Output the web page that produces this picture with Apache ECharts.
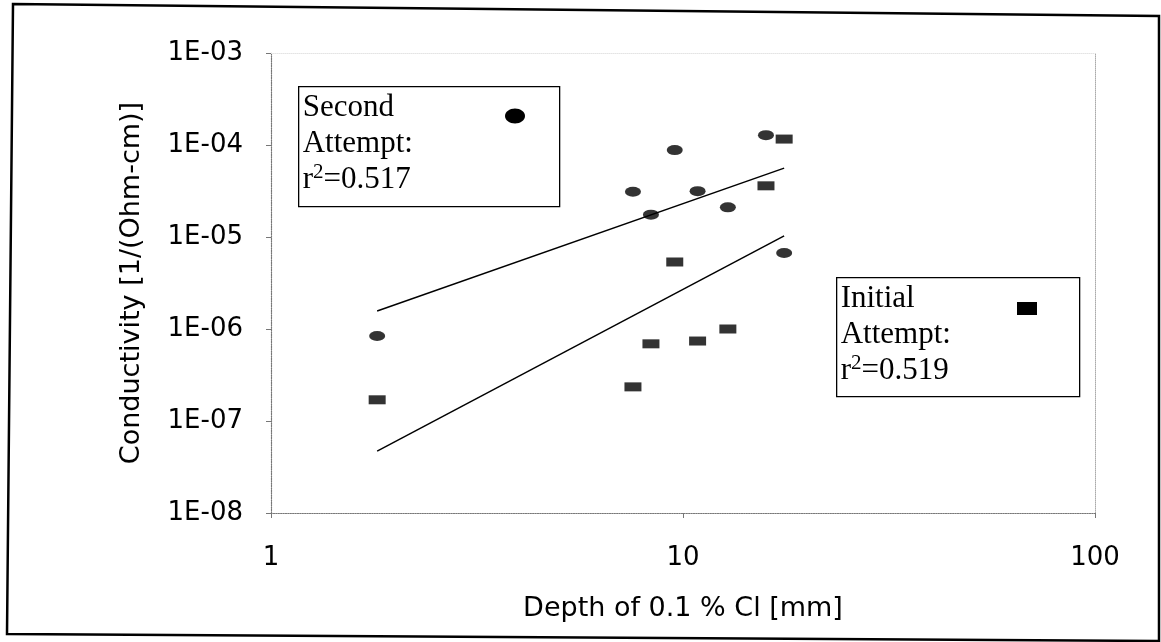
<!DOCTYPE html>
<html>
<head>
<meta charset="utf-8">
<script src="https://cdn.jsdelivr.net/npm/echarts@6/dist/echarts.min.js"></script>
<style>
html,body{margin:0;padding:0;background:#fff;}
#chart{width:1161px;height:642px;}
</style>
</head>
<body>
<div id="chart"></div>
<script>
// ---- data ----
const depthMm = [1.81, 7.56, 8.36, 9.55, 10.85, 12.85, 15.9, 17.6];
const secondAttempt = [8.4e-7, 3.1e-5, 1.75e-5, 8.8e-5, 3.15e-5, 2.1e-5, 1.28e-4, 6.7e-6];
const initialAttempt = [1.7e-7, 2.35e-7, 6.9e-7, 5.35e-6, 7.4e-7, 1.0e-6, 3.6e-5, 1.16e-4];
const trendX = [1.81, 17.6];
const secondTrendY = [1.57e-6, 5.6e-5];
const initialTrendY = [4.7e-8, 1.03e-5];
const xTickLabels = ['1', '10', '100'];
const yTickLabels = ['1E-08', '1E-07', '1E-06', '1E-05', '1E-04', '1E-03'];
const xTitle = 'Depth of 0.1 % Cl [mm]';
const yTitle = 'Conductivity [1/(Ohm-cm)]';
const secondLegend = ['Second', 'Attempt:', 'r{sup|2}=0.517'];
const initialLegend = ['Initial', 'Attempt:', 'r{sup|2}=0.519'];

const pair = (xs, ys) => xs.map((x, i) => [x, ys[i]]);
const ellipsePath = 'path://M-1,0A1,1,0,1,0,1,0A1,1,0,1,0,-1,0Z';
const sans = 'DejaVu Sans, Liberation Sans, Arial, sans-serif';
const serif = 'Liberation Serif, Times New Roman, serif';

const chart = echarts.init(document.getElementById('chart'));

const richSup = { sup: { fontSize: 21, fontFamily: serif, verticalAlign: 'top', lineHeight: 26 } };

function legendBox(x, y, w, h, lines) {
  return {
    type: 'group', left: x, top: y,
    children: [
      { type: 'rect', shape: { x: 0, y: 0, width: w, height: h },
        style: { fill: '#fff', stroke: '#000', lineWidth: 1.3 } },
      { type: 'text', x: 4, y: 3,
        style: { text: lines.join('\n'), font: '31px ' + serif, fill: '#000', lineHeight: 36, rich: richSup } }
    ]
  };
}

const option = {
  backgroundColor: '#fff',
  animation: false,
  grid: { left: 271, right: 66, top: 53, bottom: 129, containLabel: false },
  xAxis: [{
    type: 'log', logBase: 10, min: 1, max: 100,
    name: xTitle, nameLocation: 'middle', nameGap: 82,
    nameTextStyle: { fontFamily: sans, fontSize: 27, color: '#000' },
    axisLine: { show: true, lineStyle: { color: '#777', type: 'dotted', width: 1.2 } },
    axisTick: { show: true, length: 5, lineStyle: { color: '#777' } },
    minorTick: { show: false },
    splitLine: { show: false },
    axisLabel: { margin: 32, fontFamily: sans, fontSize: 26, color: '#000',
      formatter: v => xTickLabels[Math.round(Math.log10(v))] }
  }, {
    type: 'log', logBase: 10, min: 1, max: 100, position: 'top',
    axisLine: { show: true, lineStyle: { color: '#e4e4e4', type: 'dotted' } },
    axisTick: { show: false }, axisLabel: { show: false }, splitLine: { show: false }
  }],
  yAxis: [{
    type: 'log', logBase: 10, min: 1e-8, max: 1e-3,
    name: yTitle, nameLocation: 'middle', nameGap: 126, nameRotate: 90,
    nameTextStyle: { fontFamily: sans, fontSize: 27, color: '#000' },
    axisLine: { show: true, lineStyle: { color: '#777', type: 'dotted', width: 1.2 } },
    axisTick: { show: true, length: 5, lineStyle: { color: '#777' } },
    splitLine: { show: false },
    axisLabel: { margin: 28, fontFamily: sans, fontSize: 26, color: '#000',
      formatter: v => yTickLabels[Math.round(Math.log10(v)) + 8] }
  }, {
    type: 'log', logBase: 10, min: 1e-8, max: 1e-3, position: 'right',
    axisLine: { show: true, lineStyle: { color: '#aaa', type: 'dotted' } },
    axisTick: { show: false }, axisLabel: { show: false }, splitLine: { show: false }
  }],
  series: [
    { name: 'Second trend', type: 'line', data: pair(trendX, secondTrendY), symbol: 'none',
      lineStyle: { color: '#000', width: 1.5 }, z: 2 },
    { name: 'Initial trend', type: 'line', data: pair(trendX, initialTrendY), symbol: 'none',
      lineStyle: { color: '#000', width: 1.5 }, z: 2 },
    { name: 'Second Attempt', type: 'scatter', data: pair(depthMm, secondAttempt),
      symbol: ellipsePath, symbolSize: [16, 10], itemStyle: { color: '#000' }, z: 3 },
    { name: 'Initial Attempt', type: 'scatter', data: pair(depthMm, initialAttempt),
      symbol: 'rect', symbolSize: [17, 9], itemStyle: { color: '#000' }, z: 3 }
  ],
  graphic: [
    { type: 'polygon', shape: { points: [[13, 4], [1159, 16], [1159, 641], [7, 634]] },
      style: { fill: 'none', stroke: '#000', lineWidth: 2.5 }, z: 0 },
    legendBox(298, 86, 261, 120, secondLegend),
    { type: 'ellipse', shape: { cx: 515, cy: 116, rx: 10, ry: 7.5 }, style: { fill: '#000' }, z: 10 },
    legendBox(836, 277, 243, 119, initialLegend),
    { type: 'rect', shape: { x: 1017, y: 302, width: 20, height: 13 }, style: { fill: '#000' }, z: 10 }
  ]
};
chart.setOption(option);
</script>
</body>
</html>
